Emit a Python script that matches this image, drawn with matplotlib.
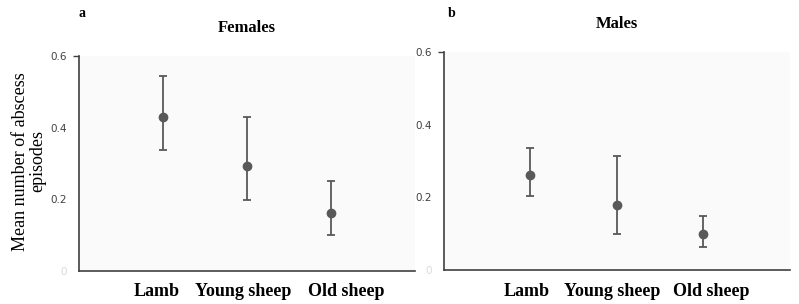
import matplotlib.pyplot as plt
import numpy as np
from matplotlib.ticker import FixedLocator

categories = ['Lamb', 'Young sheep', 'Old sheep']

# Females (panel a)
fem_mean = [0.429, 0.292, 0.161]
fem_upper = [0.545, 0.429, 0.250]
fem_lower = [0.338, 0.198, 0.101]

# Males (panel b)
male_mean = [0.262, 0.180, 0.098]
male_upper = [0.337, 0.315, 0.148]
male_lower = [0.205, 0.100, 0.064]

yticks = [0, 0.2, 0.4, 0.6]
ytick_labels = ['0', '0.2', '0.4', '0.6']

serif = 'Liberation Serif'
grey = '#595959'


def draw_panel(ax, mean, upper, lower, title, letter, letter_x, label_shift):
    x = np.arange(len(categories))
    mean = np.array(mean)
    err = [mean - np.array(lower), np.array(upper) - mean]
    ax.errorbar(x, mean, yerr=err, fmt='o', color=grey, ecolor=grey,
                markersize=6, elinewidth=1.3, capsize=3.2, capthick=1.3)
    ax.set_facecolor('#fafafa')
    ax.set_ylim(0, 0.6)
    ax.set_xlim(-1.0, 3.0)
    ax.set_yticks(yticks)
    ax.set_yticklabels(ytick_labels, fontsize=7.5, color='#404040', family='DejaVu Sans')
    ax.get_yticklabels()[0].set_color('#d9d9d9')
    ax.tick_params(axis='y', length=0, pad=9)
    # small outward tick only at the top of the axis
    ax.yaxis.remove_overlapping_locs = False
    ax.yaxis.set_minor_locator(FixedLocator([0.6]))
    ax.tick_params(axis='y', which='minor', length=4, width=1, color='#404040')
    # category labels sit slightly off the points, as in the original
    ax.set_xticks(x + np.array(label_shift))
    ax.set_xticklabels(categories, fontsize=13, fontweight='bold', family=serif)
    ax.tick_params(axis='x', length=0, pad=9)
    for s in ['top', 'right']:
        ax.spines[s].set_visible(False)
    for s in ['left', 'bottom']:
        ax.spines[s].set_color('#404040')
        ax.spines[s].set_linewidth(1.2)
    ax.set_title(title, fontsize=12, fontweight='bold', family=serif, pad=17)
    ax.figure.text(letter_x, 0.955, letter, fontsize=10, fontweight='bold',
                   family=serif, ha='left', va='center')


fig = plt.figure(figsize=(7.99, 3.04), dpi=100)
ax1 = fig.add_axes([0.0989, 0.1086, 0.4205, 0.7072])
ax2 = fig.add_axes([0.5557, 0.1118, 0.4330, 0.7172])

draw_panel(ax1, fem_mean, fem_upper, fem_lower, 'Females', 'a', 0.098, [-0.07, -0.05, 0.18])
draw_panel(ax2, male_mean, male_upper, male_lower, 'Males', 'b', 0.560, [-0.04, -0.05, 0.09])

ax1.set_ylabel('Mean number of abscess\nepisodes', fontsize=13, family=serif,
               linespacing=1.05)
ax1.yaxis.set_label_coords(-0.097, 0.51)

fig.savefig('out.png', dpi=100)
